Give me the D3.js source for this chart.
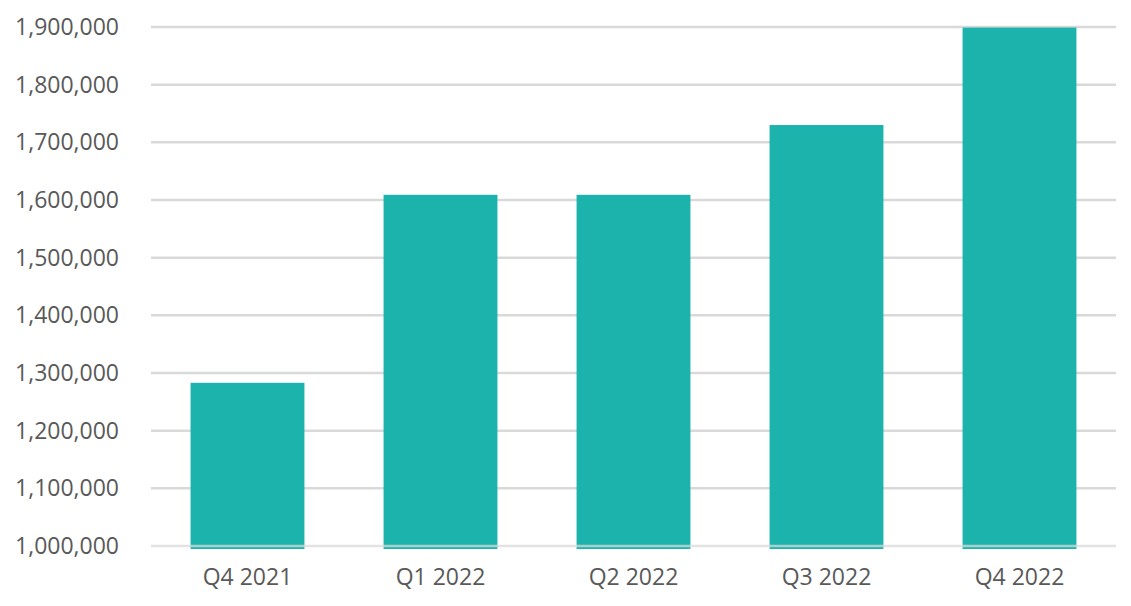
<!DOCTYPE html>
<html><head><meta charset="utf-8">
<script src="https://cdn.jsdelivr.net/npm/d3@7"></script>
<style>html,body{margin:0;padding:0;background:#fff;}</style>
</head><body>
<svg id="chart" width="1131" height="606"></svg>
<script>
const categories = ["Q4 2021", "Q1 2022", "Q2 2022", "Q3 2022", "Q4 2022"];
const values = [1283000, 1609000, 1609000, 1730000, 1899000];
const yTicks = [1000000, 1100000, 1200000, 1300000, 1400000, 1500000, 1600000, 1700000, 1800000, 1900000];

const svg = d3.select("#chart");
const margin = {left: 151, right: 15, top: 27, bottom: 60};
const W = 1131, H = 606;
const x = d3.scaleBand().domain(categories).range([margin.left, W - margin.right]).paddingInner(0.41).paddingOuter(0.205);
const y = d3.scaleLinear().domain([1000000, 1900000]).range([H - margin.bottom, margin.top]);
const fmt = d3.format(",");
const font = "'Open Sans', sans-serif";

// gridlines
svg.append("g").selectAll("line").data(yTicks.slice(1)).join("line")
  .attr("x1", margin.left).attr("x2", W - margin.right)
  .attr("y1", d => y(d)).attr("y2", d => y(d))
  .attr("stroke", "#d9d9d9").attr("stroke-width", 2.5);

// bars (extend slightly below baseline)
const base = y.range()[0];
svg.append("g").selectAll("rect").data(values).join("rect")
  .attr("x", (d, i) => x(categories[i]))
  .attr("width", x.bandwidth())
  .attr("y", d => y(d))
  .attr("height", d => base - y(d) + 3)
  .attr("fill", "#1db3ad");

// baseline over bars
svg.append("line")
  .attr("x1", margin.left).attr("x2", W - margin.right)
  .attr("y1", base).attr("y2", base)
  .attr("stroke", "#d9d9d9").attr("stroke-opacity", 0.75).attr("stroke-width", 2.5);

// y axis labels
const yAxis = d3.axisLeft(y).tickValues(yTicks).tickFormat(fmt).tickSize(0).tickPadding(32);
const gy = svg.append("g").attr("transform", `translate(${margin.left},0)`).call(yAxis);
gy.select(".domain").remove();
gy.selectAll("text").attr("fill", "#595959").style("font-family", font).style("font-size", "23px");

// x axis labels
const xAxis = d3.axisBottom(x).tickSize(0).tickPadding(23);
const gx = svg.append("g").attr("transform", `translate(0,${base})`).call(xAxis);
gx.select(".domain").remove();
gx.selectAll("text").attr("fill", "#595959").style("font-family", font).style("font-size", "23px");
</script>
</body></html>
